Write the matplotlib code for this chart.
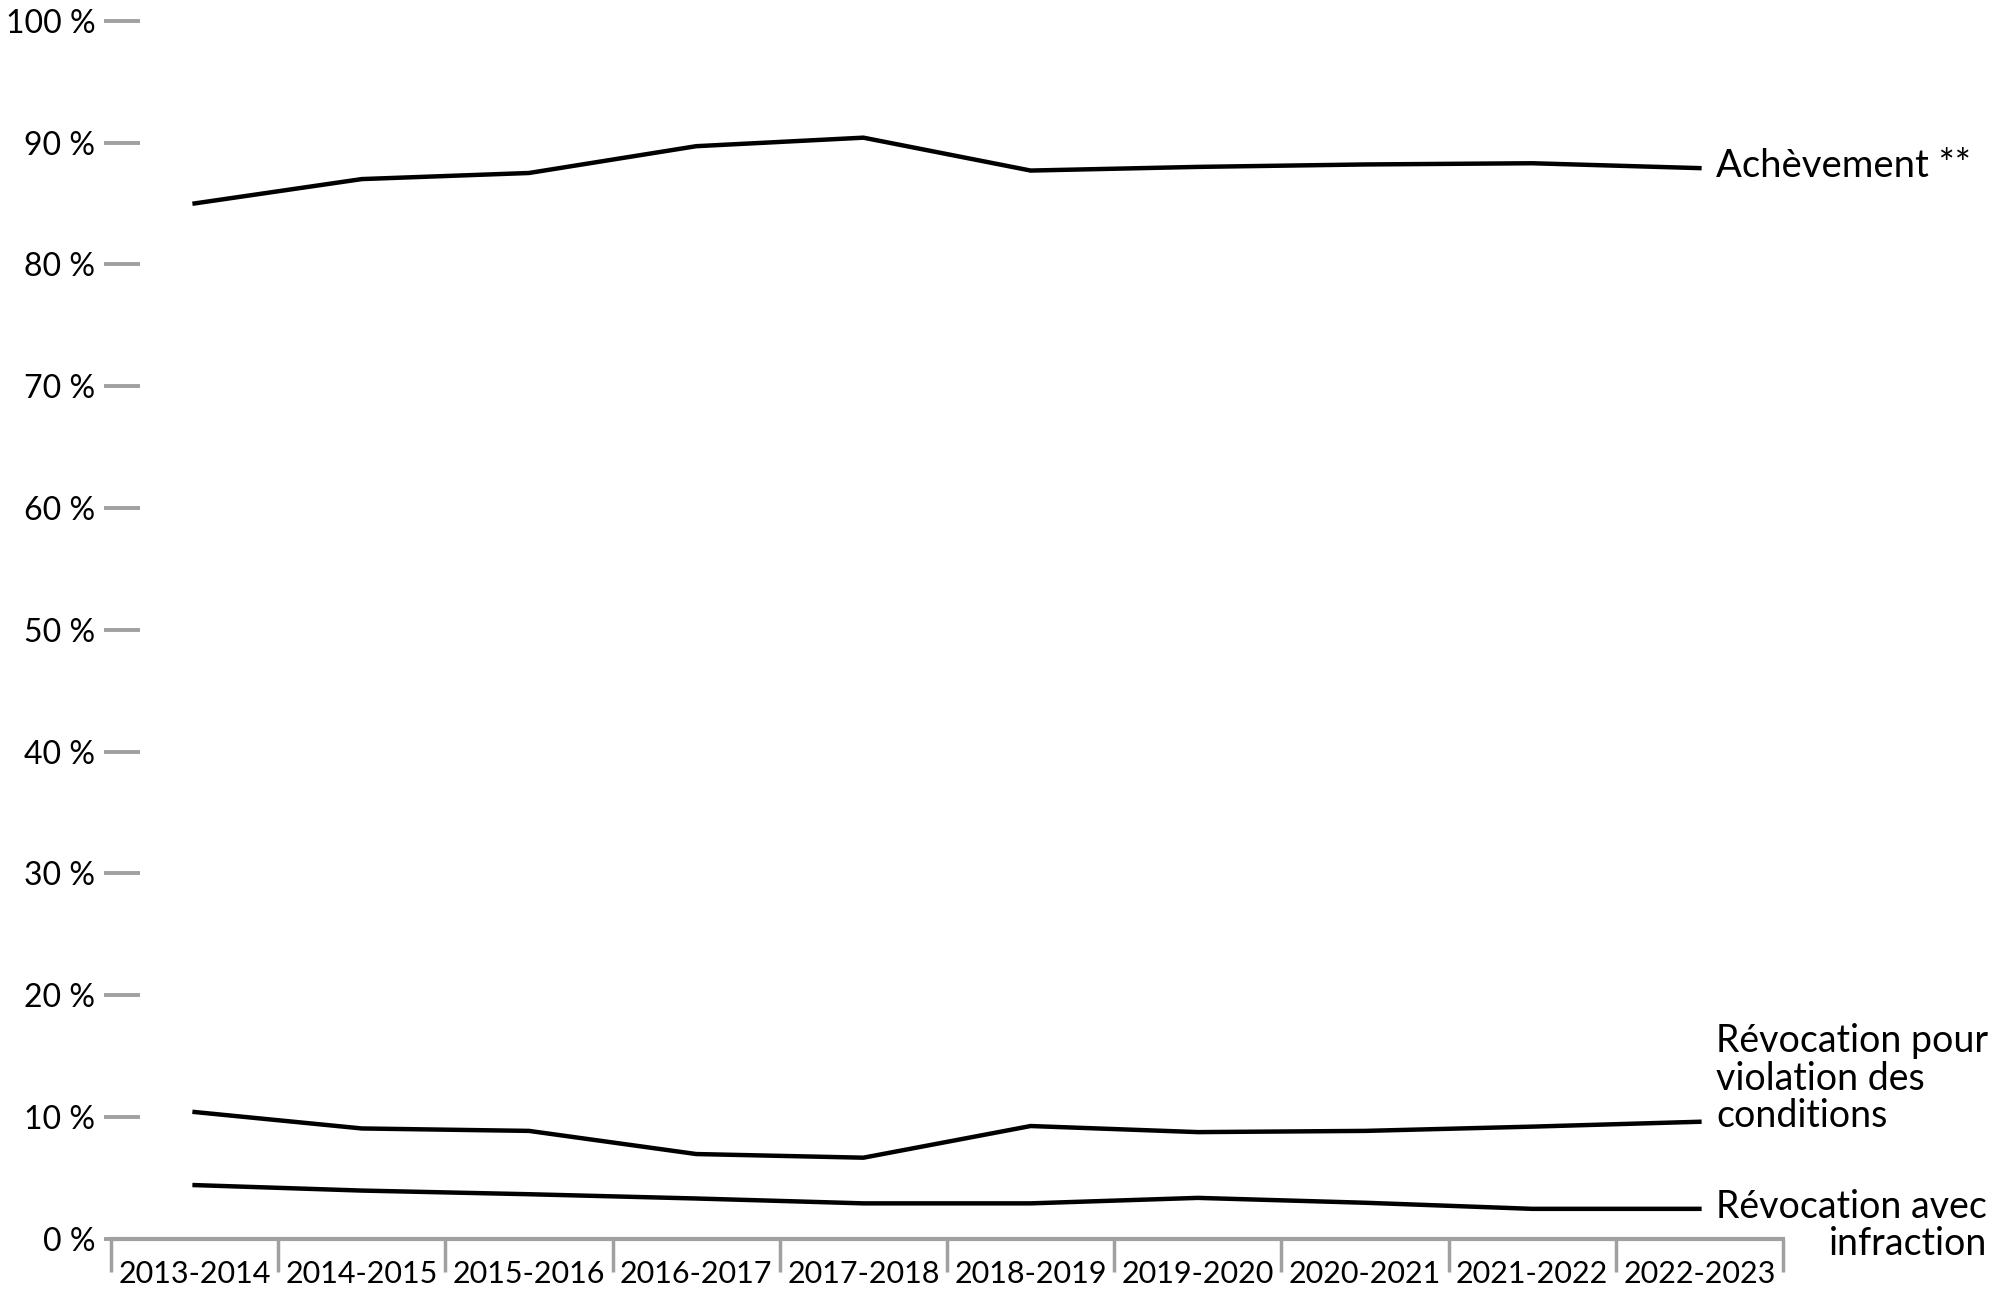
import matplotlib
matplotlib.use("Agg")
import matplotlib.pyplot as plt
import numpy as np

plt.rcParams['font.family'] = ['Lato', 'DejaVu Sans']

categories = ["2013-2014", "2014-2015", "2015-2016", "2016-2017", "2017-2018",
              "2018-2019", "2019-2020", "2020-2021", "2021-2022", "2022-2023"]
achevement = [85.0, 87.0, 87.5, 89.7, 90.4, 87.7, 88.0, 88.2, 88.3, 87.9]
violation = [10.4, 9.05, 8.85, 6.95, 6.65, 9.25, 8.75, 8.85, 9.2, 9.6]
infraction = [4.4, 3.95, 3.65, 3.3, 2.9, 2.9, 3.35, 2.95, 2.45, 2.45]
yticks = [0, 10, 20, 30, 40, 50, 60, 70, 80, 90, 100]
ytick_labels = [f"{v} %" for v in yticks]
series_labels = ["Achèvement **", "Révocation pour\nviolation des\nconditions", "Révocation avec\ninfraction"]

GREY = "#a0a0a0"
fig = plt.figure(figsize=(20, 13.13), dpi=100)
ax = fig.add_axes([0.0555, 0.0566, 0.836, 0.9276])

x = np.arange(len(categories))
for vals in (achevement, violation, infraction):
    ax.plot(x, vals, color="black", lw=3.2, solid_joinstyle="miter", clip_on=False)

ax.set_xlim(-0.5, len(categories) - 0.5)
ax.set_ylim(0, 100)

for s in ("top", "right"):
    ax.spines[s].set_visible(False)
ax.spines["left"].set_color("none")
ax.spines["left"].set_position(("outward", -7.8))
ax.spines["bottom"].set_color(GREY)
ax.spines["bottom"].set_linewidth(3)

ax.set_yticks(yticks)
ax.set_yticklabels(ytick_labels)
ax.tick_params(axis="y", direction="inout", length=26, width=2.8, color=GREY,
               labelsize=23, pad=6)

ax.set_xticks(x)
ax.set_xticklabels(categories)
ax.set_xticks(np.arange(-0.5, len(categories)), minor=True)
ax.tick_params(axis="x", which="major", length=0, labelsize=22, pad=15.5)
ax.tick_params(axis="x", which="minor", direction="out", length=24, width=2.5, color=GREY)

last = len(categories) - 1
ax.annotate(series_labels[0], xy=(last, achevement[-1]), xytext=(12, 1.5),
            textcoords="offset points", ha="left", va="center", fontsize=27.5)
ax.annotate(series_labels[1], xy=(last, violation[-1]), xytext=(12, 31),
            textcoords="offset points", ha="left", va="center", fontsize=27,
            linespacing=1.06)
ax.annotate(series_labels[2], xy=(last, infraction[-1]), xytext=(12, -12),
            textcoords="offset points", ha="left", va="center", fontsize=27,
            linespacing=1.06, multialignment="right")

fig.savefig("out.png", dpi=100, facecolor="white")
